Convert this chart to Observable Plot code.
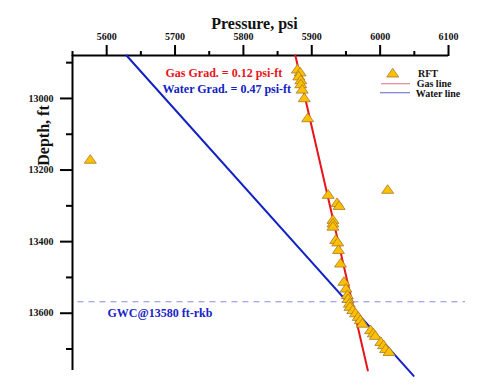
<!DOCTYPE html>
<html>
<head>
<meta charset="utf-8">
<script src="https://cdn.jsdelivr.net/npm/d3@7"></script>
<script src="https://cdn.jsdelivr.net/npm/@observablehq/plot@0.6"></script>
<style>
  html, body { margin: 0; padding: 0; background: #fff; }
  #chart svg { display: block; overflow: visible; }
</style>
</head>
<body>
<div id="chart"></div>
<script>
// ---- data ----
const pressureTicks = [5600, 5700, 5800, 5900, 6000, 6100];
const pressureMinor = [5550, 5650, 5750, 5850, 5950, 6050];
const depthTicks = [13000, 13200, 13400, 13600];
const depthMinor = [12900, 13100, 13300, 13500, 13700];

const rftPressure = [5576, 5879, 5883, 5881, 5884, 5884, 5886, 5889, 5894, 6011, 5924, 5937, 5940,
  5931, 5931, 5931, 5935, 5938, 5939, 5942, 5947, 5950, 5952, 5953, 5955, 5956, 5960, 5964,
  5968, 5971, 5974, 5986, 5990, 5993, 6001, 6005, 6008, 6013];
const rftDepth = [13169, 12917, 12925, 12936, 12947, 12958, 12973, 12997, 13053, 13253, 13267, 13290, 13298,
  13337, 13347, 13356, 13393, 13400, 13421, 13459, 13510, 13529, 13547, 13558, 13571, 13580, 13589, 13598,
  13608, 13617, 13627, 13645, 13654, 13661, 13678, 13687, 13698, 13706];

const gasLinePressure = [5876, 5982];
const gasLineDepth = [12880, 13760];
const waterLinePressure = [5629, 6049];
const waterLineDepth = [12880, 13775];

const gwcDepth = [13568];
const gwcPressureSpan = [5558, 6125];

const labels = {
  x: "Pressure, psi",
  y: "Depth, ft",
  gas: "Gas Grad. = 0.12 psi-ft",
  water: "Water Grad. = 0.47 psi-ft",
  gwc: "GWC@13580 ft-rkb"
};
const legendNames = ["RFT", "Gas line", "Water line"];

// ---- build ----
const rft = rftPressure.map((p, i) => ({p, d: rftDepth[i]}));
const gasLine = gasLinePressure.map((p, i) => ({p, d: gasLineDepth[i]}));
const waterLine = waterLinePressure.map((p, i) => ({p, d: waterLineDepth[i]}));

const FONT = "Liberation Serif, Times New Roman, serif";
const RED = "#e8141b";
const BLUE = "#1222c4";
const GOLD = "#ffc000";
const GOLD_STROKE = "#a57a2a";

const triangle = {
  draw(ctx) {
    const w = 12, h = 8.6;
    ctx.moveTo(0, -h / 2);
    ctx.lineTo(w / 2, h / 2);
    ctx.lineTo(-w / 2, h / 2);
    ctx.closePath();
  }
};

const fmt = d3.format("d");

const chart = Plot.plot({
  width: 483,
  height: 391,
  marginLeft: 72,
  marginRight: 35,
  marginTop: 55,
  marginBottom: 21,
  style: {fontFamily: FONT, background: "#fff", overflow: "visible"},
  x: {domain: [5550, 6100], axis: null},
  y: {domain: [12880, 13760], reverse: true, axis: null},
  marks: [
    // axes
    Plot.axisX({anchor: "top", ticks: pressureTicks, tickFormat: fmt, tickSize: 11, tickPadding: 5,
      strokeWidth: 2, fontSize: 10, fontWeight: "bold", fill: "#111", label: null}),
    Plot.axisX({anchor: "top", ticks: pressureMinor, tickFormat: () => "", tickSize: 5,
      strokeWidth: 2, label: null}),
    Plot.axisY({anchor: "left", ticks: depthTicks, tickFormat: fmt, tickSize: 12, tickPadding: 7,
      strokeWidth: 2, fontSize: 10, fontWeight: "bold", fill: "#111", label: null}),
    Plot.axisY({anchor: "left", ticks: depthMinor, tickFormat: () => "", tickSize: 6,
      strokeWidth: 2, label: null}),
    Plot.ruleY([12880], {stroke: "#000", strokeWidth: 2}),
    Plot.ruleX([5550], {stroke: "#000", strokeWidth: 2}),
    // GWC dashed line
    Plot.ruleY(gwcDepth, {x1: gwcPressureSpan[0], x2: gwcPressureSpan[1], stroke: "#8a8ae0",
      strokeWidth: 1.2, strokeDasharray: "6,5", clip: false}),
    // gradient lines
    Plot.line(waterLine, {x: "p", y: "d", stroke: BLUE, strokeWidth: 2}),
    Plot.line(gasLine, {x: "p", y: "d", stroke: RED, strokeWidth: 2}),
    // RFT points
    Plot.dot(rft, {x: "p", y: "d", symbol: triangle, fill: GOLD, stroke: GOLD_STROKE, strokeWidth: 0.8}),
    // titles
    Plot.text([labels.x], {frameAnchor: "top", dx: -6, dy: -38, textAnchor: "middle", fontSize: 16,
      fontWeight: "bold", fill: "#111"}),
    Plot.text([labels.y], {frameAnchor: "top-left", dx: -34.5, dy: 80, rotate: -90, textAnchor: "middle",
      fontSize: 16, fontWeight: "bold", fill: "#111"}),
    // annotations
    Plot.text([labels.gas], {frameAnchor: "top-left", dx: 93, dy: 12.5, textAnchor: "start", fontSize: 12,
      fontWeight: "bold", fill: RED}),
    Plot.text([labels.water], {frameAnchor: "top-left", dx: 90, dy: 28.5, textAnchor: "start", fontSize: 12,
      fontWeight: "bold", fill: BLUE}),
    Plot.text([labels.gwc], {y: gwcDepth[0], frameAnchor: "left", dx: 35, dy: 11, textAnchor: "start",
      fontSize: 12, fontWeight: "bold", fill: "#1a22c8"})
  ]
});

// legend
const svg = d3.select(chart);
const lg = svg.append("g").attr("font-family", FONT).attr("font-weight", "bold").attr("font-size", 10)
  .attr("fill", "#111").attr("text-anchor", "start");
const triPath = d3.path(); triangle.draw(triPath);
lg.append("path").attr("d", triPath.toString())
  .attr("transform", "translate(392.7,72.7)").attr("fill", GOLD).attr("stroke", GOLD_STROKE).attr("stroke-width", 0.8);
lg.append("text").attr("x", 418).attr("y", 73.3).attr("dy", "0.35em").text(legendNames[0]);
lg.append("line").attr("x1", 381).attr("x2", 410).attr("y1", 83.7).attr("y2", 83.7).attr("stroke", "#e08a8a").attr("stroke-width", 1.2);
lg.append("text").attr("x", 416.7).attr("y", 83.7).attr("dy", "0.35em").text(legendNames[1]);
lg.append("line").attr("x1", 380).attr("x2", 410).attr("y1", 92.7).attr("y2", 92.7).attr("stroke", "#7c7cd8").attr("stroke-width", 1.2);
lg.append("text").attr("x", 415.7).attr("y", 93.3).attr("dy", "0.35em").text(legendNames[2]);

document.getElementById("chart").appendChild(chart);
</script>
</body>
</html>
